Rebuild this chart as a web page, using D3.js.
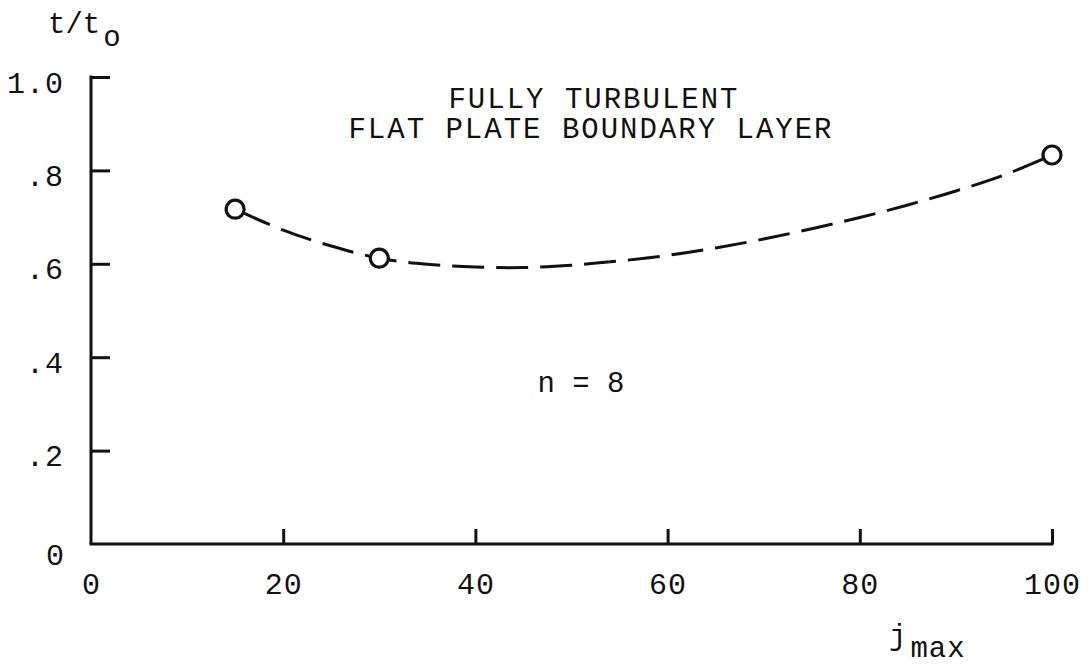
<!DOCTYPE html>
<html>
<head>
<meta charset="utf-8">
<script src="https://d3js.org/d3.v7.min.js"></script>
<style>
  body { margin: 0; background: #fff; }
  text { font-family: "Liberation Mono", "DejaVu Sans Mono", monospace; fill: #111; }
</style>
</head>
<body>
<div id="chart"></div>
<script>
// size of plot
const width = 1091;
const height = 666;

// measured points (j_max, t/t0)
const jPoints = [15, 30, 100];
const tPoints = [0.717, 0.612, 0.833];

// faired dashed curve
const jCurve = [15, 20, 25, 30, 35, 40, 45, 50, 55, 60, 65, 70, 75, 80, 85, 90, 95, 100];
const tCurve = [0.717, 0.672, 0.638, 0.612, 0.599, 0.593, 0.592, 0.597, 0.606, 0.618, 0.634, 0.653, 0.675, 0.699, 0.726, 0.756, 0.790, 0.833];

// tick values and labels
const xTicks = [0, 20, 40, 60, 80, 100];
const yTicks = [0, 0.2, 0.4, 0.6, 0.8, 1.0];
const yTickLabels = ["0", ".2", ".4", ".6", ".8", "1.0"];

const x = d3.scaleLinear().domain([0, 100]).range([91, 1052]);
const y = d3.scaleLinear().domain([0, 1]).range([544, 77]);

const svg = d3.select("#chart")
  .append("svg")
  .attr("width", width)
  .attr("height", height);

// y axis, ticks point into the plot
const yAxis = svg.append("g")
  .attr("transform", `translate(${x(0)},0)`)
  .call(d3.axisLeft(y)
    .tickValues(yTicks.slice(1))
    .tickFormat((d, i) => yTickLabels[i + 1])
    .tickSizeInner(-19)
    .tickSizeOuter(0)
    .tickPadding(27));

yAxis.select(".domain").attr("stroke", "#111").attr("stroke-width", 3)
  .attr("d", `M0,${y(1) - 1.5}V${y(0)}`);
yAxis.selectAll(".tick line").attr("stroke", "#111").attr("stroke-width", 3);
yAxis.selectAll(".tick text")
  .style("font-size", "30px")
  .attr("letter-spacing", 1)
  .attr("dy", "0.5em");

// the lone "0" on the y axis
svg.append("text")
  .attr("x", 64)
  .attr("y", y(0) + 21)
  .attr("text-anchor", "end")
  .style("font-size", "30px")
  .text(yTickLabels[0]);

// x axis, ticks point up
const xAxis = svg.append("g")
  .attr("transform", `translate(0,${y(0)})`)
  .call(d3.axisBottom(x)
    .tickValues(xTicks)
    .tickSizeInner(-15)
    .tickSizeOuter(0));

xAxis.select(".domain").attr("stroke", "#111").attr("stroke-width", 3)
  .attr("d", `M${x(0) - 1.5},0H${x(100) + 1.5}`);
xAxis.selectAll(".tick line").attr("stroke", "#111").attr("stroke-width", 3)
  .filter(d => d === 0).remove();
xAxis.selectAll(".tick text")
  .style("font-size", "30px")
  .attr("letter-spacing", 1)
  .attr("y", 50)
  .attr("dy", null);

// dashed faired curve
const curveData = jCurve.map((j, i) => [j, tCurve[i]]);
const line = d3.line()
  .x(d => x(d[0]))
  .y(d => y(d[1]))
  .curve(d3.curveCatmullRom);

svg.append("path")
  .datum(curveData)
  .attr("fill", "none")
  .attr("stroke", "#111")
  .attr("stroke-width", 3)
  .attr("stroke-dasharray", "32,12")
  .attr("stroke-dashoffset", -6)
  .attr("d", line);

// open circles
svg.append("g")
  .selectAll("circle")
  .data(jPoints.map((j, i) => [j, tPoints[i]]))
  .enter().append("circle")
    .attr("cx", d => x(d[0]))
    .attr("cy", d => y(d[1]))
    .attr("r", 9)
    .attr("fill", "#fff")
    .attr("stroke", "#111")
    .attr("stroke-width", 3.2);

// title
const title = svg.append("text")
  .attr("text-anchor", "middle")
  .style("font-size", "29px")
  .attr("letter-spacing", 2);
title.append("tspan").attr("x", 594).attr("y", 108).text("FULLY TURBULENT");
title.append("tspan").attr("x", 591).attr("y", 138).text("FLAT PLATE BOUNDARY LAYER");

// n = 8
svg.append("text")
  .attr("x", 581)
  .attr("y", 392)
  .attr("text-anchor", "middle")
  .style("font-size", "29px")
  .text("n = 8");

// y axis title t/t_o
const yTitle = svg.append("text")
  .attr("x", 48)
  .attr("y", 33)
  .style("font-size", "29px");
yTitle.append("tspan").text("t/t");
yTitle.append("tspan").attr("dy", 13).attr("dx", 3).text("o");

// x axis title j_max
const xTitle = svg.append("text")
  .attr("x", 889)
  .attr("y", 645)
  .style("font-size", "29px")
  .attr("letter-spacing", 1);
xTitle.append("tspan").text("j");
xTitle.append("tspan").attr("dy", 12).attr("dx", 3).text("max");
</script>
</body>
</html>
